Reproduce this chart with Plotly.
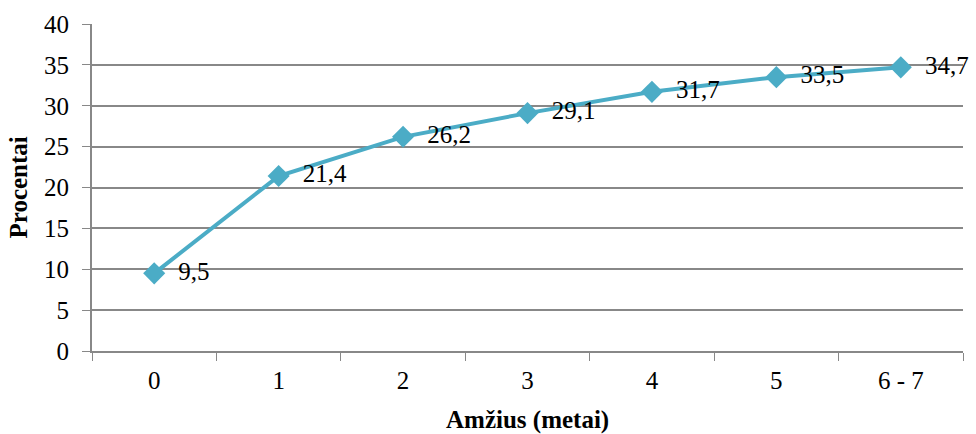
import plotly.graph_objects as go

categories = ["0", "1", "2", "3", "4", "5", "6 - 7"]
values = [9.5, 21.4, 26.2, 29.1, 31.7, 33.5, 34.7]
labels = ["9,5", "21,4", "26,2", "29,1", "31,7", "33,5", "34,7"]

font_family = "Liberation Serif"
grid_col = "#888888"
line_col = "#4BACC6"

W, H = 976, 434
ML, MR, MT, MB = 92, 13, 24, 83
PW, PH = W - ML - MR, H - MT - MB

fig = go.Figure()
fig.add_trace(go.Scatter(
    x=categories, y=values, mode="lines+markers+text",
    text=["  " + t for t in labels], textposition="middle right",
    textfont=dict(family=font_family, size=25, color="#000000"),
    line=dict(color=line_col, width=4),
    marker=dict(symbol="diamond", size=17, color=line_col),
    cliponaxis=False, showlegend=False,
))

fig.update_layout(
    width=W, height=H,
    margin=dict(l=ML, r=MR, t=MT, b=MB, autoexpand=False),
    paper_bgcolor="white", plot_bgcolor="white",
    font=dict(family=font_family, size=25, color="#000000"),
    xaxis=dict(
        type="category", range=[-0.5, 6.5], automargin=False,
        tickson="boundaries", ticks="outside", ticklen=8, tickcolor=grid_col,
        ticklabelstandoff=6,
        showgrid=False, showline=True, linecolor=grid_col, linewidth=2,
        tickfont=dict(family=font_family, size=25),
    ),
    yaxis=dict(
        range=[0, 40], dtick=5, ticks="outside", ticklen=8, tickcolor=grid_col,
        ticklabelstandoff=8,
        showgrid=True, gridcolor=grid_col, gridwidth=2, automargin=False,
        showline=True, linecolor=grid_col, linewidth=2, zeroline=False,
        tickfont=dict(family=font_family, size=25),
    ),
)

fig.add_annotation(
    text="<b>Amžius (metai)</b>", xref="paper", yref="paper",
    x=0.5, y=(H - MB - 420) / PH, showarrow=False,
    xanchor="center", yanchor="middle",
    font=dict(family=font_family, size=25, color="#000000"),
)
fig.add_annotation(
    text="<b>Procentai</b>", xref="paper", yref="paper",
    x=(18 - ML) / PW, y=0.5, showarrow=False, textangle=-90,
    xanchor="center", yanchor="middle",
    font=dict(family=font_family, size=25, color="#000000"),
)

fig.write_html("out.html")
